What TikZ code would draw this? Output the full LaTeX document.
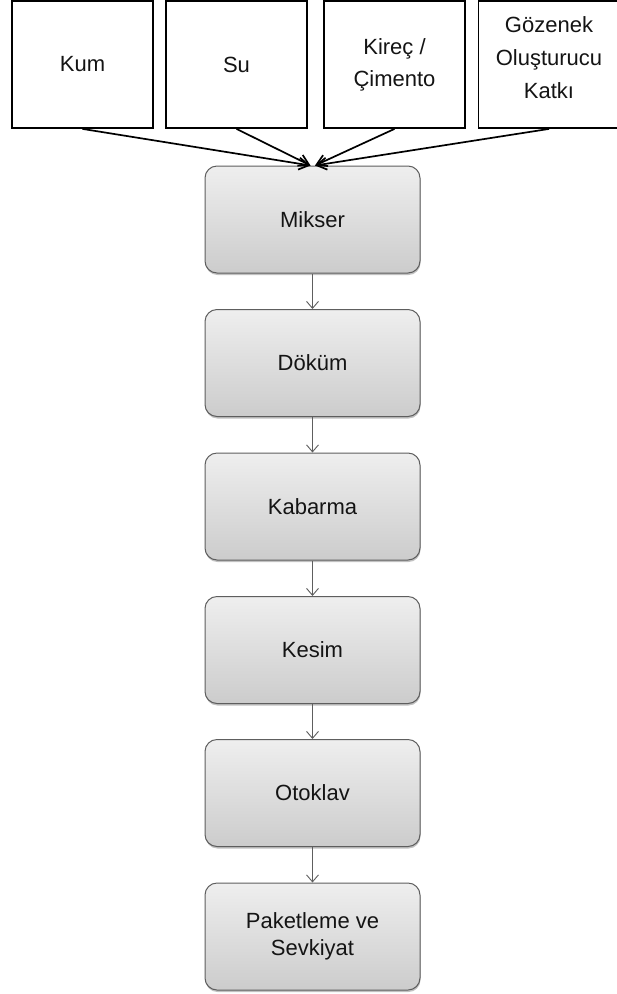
\documentclass[tikz,border=0pt]{standalone}
\usepackage{fontspec}
\setmainfont{Liberation Sans}
\usetikzlibrary{arrows.meta,shadows}
\definecolor{txt}{HTML}{141414}
\definecolor{edge}{HTML}{5E5E5E}
\tikzset{
  x=1pt, y=-1pt,
  input/.style={draw=black, line width=1.8pt, fill=white, minimum width=141pt,
    minimum height=127pt, align=center, font=\fontsize{22}{32}\selectfont, text=txt, inner sep=0pt},
  label text/.style={align=center, font=\fontsize{22}{33}\selectfont, text=txt, inner sep=0pt},
  stage/.style={draw=edge, line width=1pt, rounded corners=12pt, minimum width=215pt,
    minimum height=107pt, align=center, font=\fontsize{22}{27}\selectfont, text=txt,
    top color=gray!13, bottom color=gray!40,
    drop shadow={shadow xshift=0.5pt, shadow yshift=-2pt, opacity=0.35, fill=black!70}},
  feed/.style={draw=black, line width=1.7pt, -{Straight Barb[length=10pt,width=12pt,line width=1.7pt]}},
  flow/.style={draw=edge, line width=0.9pt, -{Straight Barb[length=7pt,width=12pt,line width=0.9pt]}}
}
\begin{document}
\begin{tikzpicture}
\useasboundingbox (0,0) rectangle (617,994);
% raw material inputs
\node[input] (kum) at (82.5,64.5) {Kum};
\node[input] (su) at (236.5,64.5) {Su};
\node[input] (kirec) at (394.5,64.5) {Kireç /\\Çimento};
\node[input] (katki) at (549,64.5) {};
\node[label text] (katkitext) at ([yshift=7pt]katki.center) {Gözenek\\Oluşturucu\\Katkı};
% process stages
\node[stage] (mikser) at (312.5,219.5) {Mikser};
\node[stage] (dokum) at (312.5,363) {Döküm};
\node[stage] (kabarma) at (312.5,506.5) {Kabarma};
\node[stage] (kesim) at (312.5,650) {Kesim};
\node[stage] (otoklav) at (312.5,793) {Otoklav};
\node[stage] (paket) at (312.5,936.5) {Paketleme ve\\Sevkiyat};
% inputs into the mixer
\coordinate (inL) at ([xshift=-2pt]mikser.north);
\coordinate (inR) at ([xshift=2.5pt]mikser.north);
\draw[feed] (kum.south) -- (inL);
\draw[feed] (su.south) -- (inL);
\draw[feed] (kirec.south) -- (inR);
\draw[feed] (katki.south) -- (inR);
% process chain
\draw[flow] (mikser) -- (dokum);
\draw[flow] (dokum) -- (kabarma);
\draw[flow] (kabarma) -- (kesim);
\draw[flow] (kesim) -- (otoklav);
\draw[flow] (otoklav) -- (paket);
\end{tikzpicture}
\end{document}
